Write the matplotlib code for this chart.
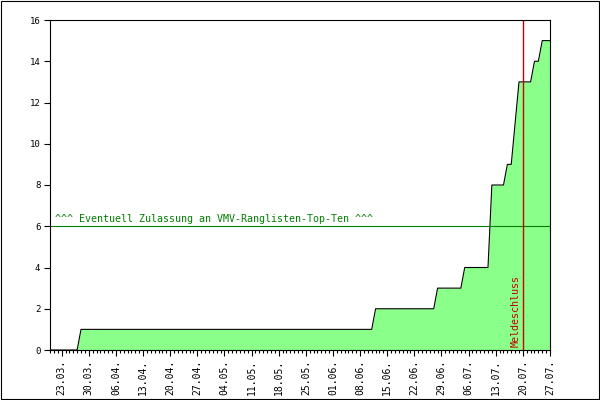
#!/usr/bin/env python3
"""Registrations over time (cumulative), with qualification line and deadline."""
import matplotlib
matplotlib.use("Agg")
import matplotlib.pyplot as plt
import matplotlib.dates as mdates
from matplotlib.patches import Rectangle
import pandas as pd

# change points of the cumulative count (value holds until the next date)
CHANGE_DATES = ["2008-03-20", "2008-03-28", "2008-06-12", "2008-06-28",
                "2008-07-05", "2008-07-12", "2008-07-16", "2008-07-18",
                "2008-07-19", "2008-07-23", "2008-07-25"]
TOTALS = [0, 1, 2, 3, 4, 8, 9, 11, 13, 14, 15]
LAST_DAY = "2008-07-27"

THRESHOLD = 6
THRESHOLD_LABEL = "^^^ Eventuell Zulassung an VMV-Ranglisten-Top-Ten ^^^"
DEADLINE = "2008-07-20"
DEADLINE_LABEL = "Meldeschluss"
FIRST_TICK = "2008-03-23"
Y_TICKS = [0, 2, 4, 6, 8, 10, 12, 14, 16]

FILL = "#8aff8a"
MONO = "DejaVu Sans Mono"
LW = 0.8


def main():
    series = pd.Series(TOTALS, index=pd.to_datetime(CHANGE_DATES))
    days = pd.date_range(CHANGE_DATES[0], LAST_DAY, freq="D")
    daily = series.reindex(days).ffill()

    fig = plt.figure(figsize=(6, 4), dpi=100)
    ax = fig.add_axes([50 / 600, 50 / 400, 500 / 600, 330 / 400])

    ax.fill_between(daily.index, daily.values, 0, color=FILL, linewidth=0)
    ax.plot(daily.index, daily.values, color="black", linewidth=LW)

    ax.axhline(THRESHOLD, color="#008000", linewidth=LW)
    ax.text(pd.Timestamp(CHANGE_DATES[0]) + pd.Timedelta(days=1.2), THRESHOLD + 0.1,
            THRESHOLD_LABEL, color="#008000", fontsize=7.2, family=MONO,
            ha="left", va="bottom")

    dl = pd.Timestamp(DEADLINE)
    ax.axvline(dl, color="#cc0000", linewidth=1.0)
    ax.text(dl - pd.Timedelta(days=0.5), 0.15, DEADLINE_LABEL, color="#c00000",
            fontsize=7.2, family=MONO, rotation=90, ha="right", va="bottom")

    ax.set_xlim(pd.Timestamp(CHANGE_DATES[0]), pd.Timestamp(LAST_DAY))
    ax.set_ylim(0, 16)
    ax.set_yticks(Y_TICKS)
    ax.set_yticklabels([str(v) for v in Y_TICKS], family=MONO, fontsize=6.5)

    ticks = pd.date_range(FIRST_TICK, LAST_DAY, freq="7D")
    ax.set_xticks(ticks)
    ax.set_xticklabels([t.strftime("%d.%m.") for t in ticks], rotation=90,
                       family=MONO, fontsize=7)
    ax.xaxis.set_minor_locator(mdates.DayLocator())
    ax.tick_params(axis="both", which="major", direction="out", length=4,
                   width=LW, pad=3)
    ax.tick_params(axis="x", which="minor", direction="out", length=2, width=LW)
    for sp in ax.spines.values():
        sp.set_linewidth(LW)

    fig.patches.append(Rectangle((0.001, 0.002), 0.997, 0.996, transform=fig.transFigure,
                                 fill=False, edgecolor="black", linewidth=LW))
    fig.savefig("out.png", dpi=100)


if __name__ == "__main__":
    main()
